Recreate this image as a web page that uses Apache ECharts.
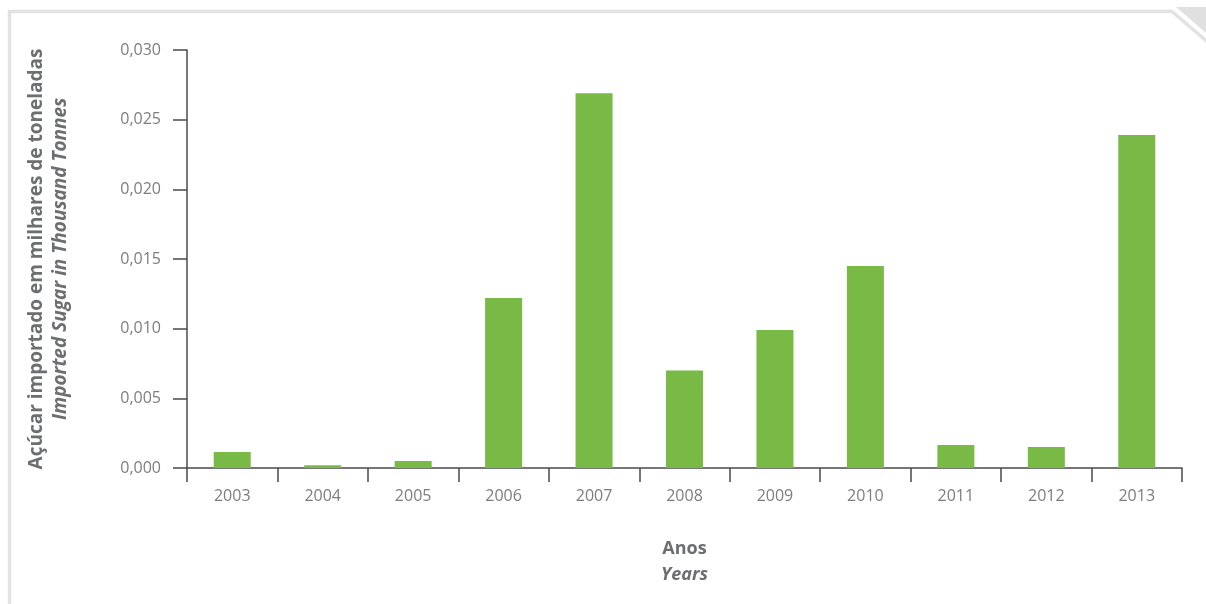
<!DOCTYPE html>
<html>
<head>
<meta charset="utf-8">
<script src="https://cdn.jsdelivr.net/npm/echarts@6/dist/echarts.min.js"></script>
<style>
  html, body { margin: 0; padding: 0; background: #fff; }
  #chart { width: 1206px; height: 604px; }
</style>
</head>
<body>
<div id="chart"></div>
<script>
// anos / years
const years = ['2003', '2004', '2005', '2006', '2007', '2008', '2009', '2010', '2011', '2012', '2013'];
// açúcar importado (milhares de toneladas)
const imported = [0.00115, 0.0002, 0.0005, 0.0122, 0.0269, 0.007, 0.0099, 0.0145, 0.00165, 0.0015, 0.0239];
const yTicks = { min: 0, max: 0.03, interval: 0.005 };

const chart = echarts.init(document.getElementById('chart'));
const axisColor = '#4a4a4a';
const labelColor = '#7d7d7d';
const titleColor = '#6d6e71';
const font = '"Open Sans", "Noto Sans", sans-serif';

let option = {
  animation: false,
  grid: { left: 187, right: 24, top: 50, bottom: 136, containLabel: false },
  // moldura com canto dobrado
  graphic: [
    {
      type: 'polyline',
      shape: { points: [[9.5, 620], [9.5, 11.5], [1172, 11.5], [1210, 44]] },
      style: { stroke: '#e3e3e3', lineWidth: 3.5, fill: null }
    },
    {
      type: 'polygon',
      shape: { points: [[1176, 7], [1206, 7], [1206, 33]] },
      style: { fill: '#e0e0e0' }
    }
  ],
  xAxis: {
    type: 'category',
    data: years,
    name: '{b|Anos}\n{i|Years}',
    nameLocation: 'middle',
    nameGap: 68,
    nameTextStyle: {
      rich: {
        b: { fontFamily: font, fontWeight: 'bold', fontSize: 18, color: titleColor, lineHeight: 26, align: 'center' },
        i: { fontFamily: font, fontStyle: 'italic', fontWeight: 'bold', fontSize: 18, color: titleColor, lineHeight: 26, align: 'center' }
      }
    },
    axisLine: { lineStyle: { color: axisColor, width: 1.5 } },
    axisTick: { show: true, length: 14, lineStyle: { color: axisColor, width: 1.5 } },
    axisLabel: { color: labelColor, fontFamily: font, fontSize: 16, margin: 20 }
  },
  yAxis: {
    type: 'value',
    min: yTicks.min,
    max: yTicks.max,
    interval: yTicks.interval,
    name: '{b|Açúcar importado em milhares de toneladas}\n{i|Imported Sugar in Thousand Tonnes}',
    nameLocation: 'middle',
    nameRotate: 90,
    nameGap: 114,
    nameTextStyle: {
      rich: {
        b: { fontFamily: font, fontWeight: 'bold', fontSize: 19, color: titleColor, lineHeight: 24, align: 'center' },
        i: { fontFamily: font, fontStyle: 'italic', fontWeight: 'bold', fontSize: 19, color: titleColor, lineHeight: 24, align: 'center' }
      }
    },
    axisLine: { show: true, lineStyle: { color: axisColor, width: 1.5 } },
    axisTick: { show: true, length: 14, lineStyle: { color: axisColor, width: 1.5 } },
    splitLine: { show: false },
    axisLabel: {
      color: labelColor,
      fontFamily: font,
      fontSize: 16,
      margin: 26,
      formatter: v => v.toFixed(3).replace('.', ',')
    }
  },
  series: [
    {
      type: 'bar',
      data: imported,
      barWidth: 37,
      itemStyle: { color: '#79b946' }
    }
  ]
};

option && chart.setOption(option);
</script>
</body>
</html>
